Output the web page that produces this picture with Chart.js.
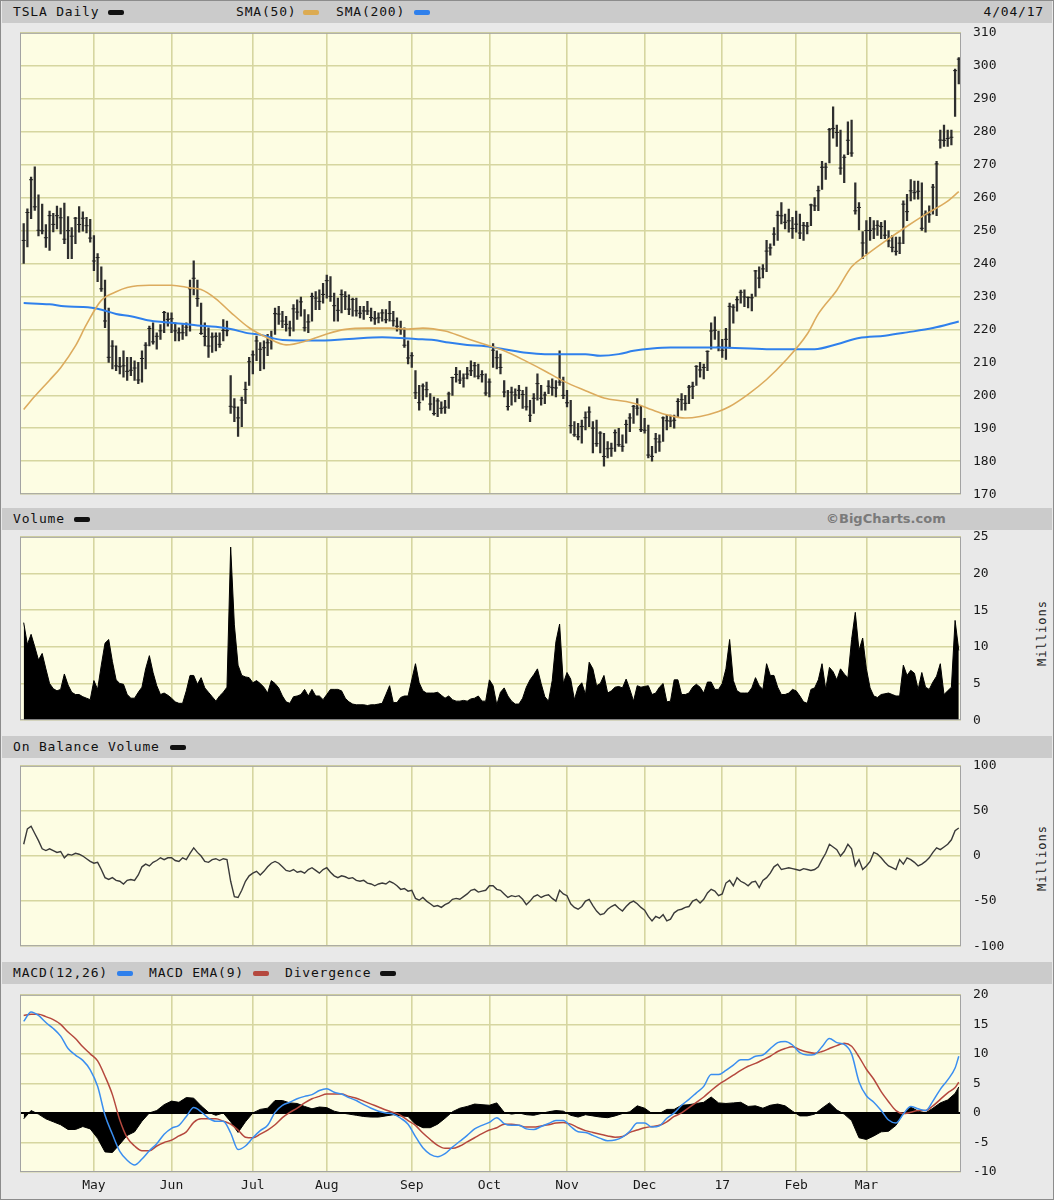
<!DOCTYPE html>
<html>
<head>
<meta charset="utf-8">
<title>TSLA Daily</title>
<script src="https://cdn.jsdelivr.net/npm/chart.js@4.4.1/dist/chart.umd.min.js"></script>
<style>
  body { margin: 0; background: #fff; }
  #wrap { position: relative; width: 1054px; height: 1200px; background: #e9e9e9; overflow: hidden;
          font-family: 'DejaVu Sans Mono', monospace; font-size: 13px; color: #111; box-sizing: border-box;
          border: 1px solid #8c8c8c; }
  .band { position: absolute; left: 1px; width: 1050px; height: 22px; background: #cbcbcb; }
  .lbl { position: absolute; top: 4px; white-space: nowrap; letter-spacing: 0.8px; line-height: 14px; }
  .sw { position: absolute; top: 9px; width: 16px; height: 5px; border-radius: 2px; }
  .mil { position: absolute; left: 1041px; transform: translate(-50%, -50%) rotate(-90deg); font-size: 12px;
         letter-spacing: 1px; white-space: nowrap; color: #222; }
  canvas { position: absolute; left: -1px; }
</style>
</head>
<body>
<div id="wrap">
  <div class="band" style="top:0">
    <span class="lbl" style="left:11px">TSLA Daily</span><span class="sw" style="left:106px;background:#111"></span>
    <span class="lbl" style="left:234px">SMA(50)</span><span class="sw" style="left:301px;background:#dcab52"></span>
    <span class="lbl" style="left:334px">SMA(200)</span><span class="sw" style="left:412px;background:#2f80ec"></span>
    <span class="lbl" style="right:8px">4/04/17</span>
  </div>
  <div class="band" style="top:507px">
    <span class="lbl" style="left:11px">Volume</span><span class="sw" style="left:72px;background:#111"></span>
    <span class="lbl" style="left:824px;font-family:'DejaVu Sans',sans-serif;font-weight:bold;color:#7a7a7a;letter-spacing:0">©BigCharts.com</span>
  </div>
  <div class="band" style="top:735px">
    <span class="lbl" style="left:11px">On Balance Volume</span><span class="sw" style="left:168px;background:#111"></span>
  </div>
  <div class="band" style="top:961px">
    <span class="lbl" style="left:11px">MACD(12,26)</span><span class="sw" style="left:115px;background:#2f80ec"></span>
    <span class="lbl" style="left:147px">MACD EMA(9)</span><span class="sw" style="left:251px;background:#b5483e"></span>
    <span class="lbl" style="left:283px">Divergence</span><span class="sw" style="left:378px;background:#111"></span>
  </div>
  <div class="mil" style="top:632px">Millions</div>
  <div class="mil" style="top:857px">Millions</div>
  <canvas id="priceChart" width="1054" height="501" style="top:12px"></canvas>
  <canvas id="volumeChart" width="1054" height="223" style="top:516px"></canvas>
  <canvas id="obvChart" width="1054" height="220" style="top:745px"></canvas>
  <canvas id="macdChart" width="1054" height="225" style="top:974px"></canvas>
</div>

<script>
// Daily bars, 4 Apr 2016 .. 4 Apr 2017 (index 0..253)
const dayHigh = [
  252.1,256.6,266.2,269.3,260.8,258.0,251.8,255.9,255.2,257.4,256.8,258.3,254.2,250.9,254.0,257.3,255.7,254.0,253.4,248.5,
  243.0,239.0,235.0,226.5,216.6,215.0,211.5,213.5,211.5,211.5,210.5,210.0,213.5,216.0,221.0,222.0,219.0,221.5,225.5,225.0,225.0,
  222.0,220.5,221.5,222.0,235.0,240.8,235.0,228.0,222.0,220.5,219.0,219.0,219.0,223.0,222.5,206.0,199.0,196.5,199.5,204.0,211.5,213.5,
  218.0,216.0,216.5,218.5,219.5,226.5,227.0,225.5,224.0,222.5,227.5,229.0,229.8,226.0,224.5,231.0,231.5,232.0,234.0,236.5,
  236.0,231.0,229.5,232.0,231.5,230.5,229.5,229.5,227.0,227.0,228.5,226.5,225.5,225.0,226.0,226.0,228.5,225.5,223.5,222.5,220.5,216.5,213.0,
  207.5,203.0,203.5,204.0,200.5,199.5,199.0,198.0,198.5,201.0,205.5,208.5,207.5,206.5,208.5,210.5,210.0,209.5,207.5,206.5,205.0,
  215.7,213.5,212.5,204.5,201.5,202.5,202.0,203.0,201.5,202.5,198.5,200.5,206.5,203.0,201.0,204.5,205.0,204.5,213.5,205.5,201.5,
  198.5,192.0,191.5,192.5,195.0,196.5,192.0,192.5,189.0,188.5,186.0,185.5,189.5,190.0,188.0,192.5,194.5,197.0,199.0,197.0,193.0,
  191.0,184.5,188.5,188.0,193.5,194.0,194.0,194.0,199.0,200.5,200.0,203.0,204.0,209.0,210.0,209.5,213.5,222.0,223.8,219.5,217.0,
  220.3,228.0,227.5,230.0,231.9,232.0,229.9,230.7,237.9,239.0,239.7,247.0,246.0,250.9,255.9,258.5,255.0,256.5,254.0,255.9,
  255.0,252.5,252.5,258.0,260.0,263.5,271.0,270.5,281.0,287.5,282.0,280.5,273.0,283.0,283.5,264.5,258.5,249.7,253.0,
  254.0,253.0,253.0,252.5,253.0,250.0,248.5,248.0,248.0,259.0,261.0,265.5,265.0,265.0,264.5,256.0,257.5,264.0,271.0,280.5,282.0,280.5,280.5,
  299.0,302.5
];
const dayLow = [
  240.0,245.0,253.6,256.1,248.4,249.0,244.9,244.0,249.6,250.5,249.0,246.0,241.5,241.5,246.0,249.5,249.8,249.3,246.5,237.8,
  234.5,231.5,220.5,210.0,208.0,207.5,206.5,205.5,204.5,206.0,204.5,203.5,204.0,208.0,215.0,215.5,214.0,217.0,219.0,221.0,219.0,
  216.5,216.5,217.0,218.0,219.5,230.5,227.0,218.5,215.0,211.5,213.0,213.5,214.5,216.5,218.0,194.5,192.0,187.5,190.5,197.5,203.0,206.5,
  210.5,207.5,208.0,212.0,214.0,218.5,221.5,220.5,219.5,218.0,219.5,223.0,224.0,219.5,219.0,222.5,226.0,226.0,228.0,229.5,
  228.5,222.5,222.5,225.0,226.0,224.5,224.0,224.0,223.5,223.0,224.5,222.5,221.5,222.0,222.5,222.0,222.5,221.0,219.5,218.5,214.5,209.5,208.5,
  199.0,195.5,198.5,199.5,195.5,194.0,193.5,194.5,194.5,196.0,200.0,204.0,203.5,202.5,205.0,206.0,205.5,205.0,204.0,200.0,199.5,
  208.5,208.0,206.5,199.5,195.5,197.0,198.0,199.0,196.0,195.5,192.0,194.5,198.5,197.0,197.5,200.5,200.0,199.5,203.0,199.0,196.5,
  188.5,187.5,186.5,185.5,189.5,190.5,182.5,184.5,182.5,178.5,181.0,181.5,183.0,184.5,183.0,185.5,189.0,191.5,194.0,189.0,188.5,
  181.0,180.0,182.5,183.0,186.0,189.5,190.5,190.0,193.5,195.5,195.5,197.5,199.0,203.0,205.5,205.0,207.5,214.0,217.0,213.5,211.5,
  210.9,214.3,221.9,225.5,228.0,226.9,226.5,225.6,230.0,232.6,235.6,237.5,242.5,245.5,247.0,252.0,250.5,249.5,247.6,249.5,
  247.5,247.0,249.0,251.5,256.0,256.0,262.5,265.5,270.5,278.0,275.5,267.0,264.5,273.0,272.5,255.0,250.2,241.5,243.0,
  247.0,247.5,248.5,247.5,247.5,245.0,243.5,242.5,243.0,246.0,253.0,259.0,259.5,259.5,250.0,249.5,252.5,255.0,254.5,275.0,275.5,275.5,276.0,
  284.6,294.5
];
const dayClose = [
  246.99,255.47,265.42,257.20,250.07,249.92,247.82,254.53,251.86,254.51,253.88,247.37,249.97,248.29,253.75,251.82,253.74,251.47,247.71,240.76,
  241.80,232.32,222.56,211.53,214.93,208.92,208.69,208.96,207.28,207.61,208.29,204.66,211.17,215.21,220.28,216.22,217.91,219.58,225.12,223.04,223.23,
  219.56,218.96,218.99,220.68,232.34,235.52,229.36,218.79,217.87,214.96,217.70,217.93,215.47,219.70,219.61,196.66,196.40,193.15,198.55,201.79,210.19,212.28,
  216.50,213.98,214.44,215.94,216.78,224.78,224.65,222.53,221.53,220.40,226.25,225.26,228.36,220.50,222.27,230.01,229.51,228.49,230.61,234.79,
  230.01,227.20,225.79,230.61,230.03,226.16,229.08,225.65,224.91,225.61,225.59,223.61,223.24,223.51,225.00,222.93,224.84,222.62,220.96,219.99,215.20,211.34,212.01,
  200.77,197.78,202.83,201.71,197.36,194.47,198.30,196.05,196.41,200.42,205.40,206.34,204.64,205.22,206.43,207.45,208.99,205.81,206.27,200.70,204.03,
  213.70,211.41,208.46,201.00,196.61,200.95,200.10,201.51,200.24,196.51,193.96,199.10,203.56,199.10,200.09,202.76,202.34,202.24,204.01,199.97,197.73,
  190.79,188.02,187.42,190.56,193.21,194.94,190.06,185.35,188.56,181.45,183.77,183.93,188.66,185.02,184.52,191.17,193.14,196.65,196.12,189.57,189.40,
  181.88,181.47,186.80,185.85,193.15,192.29,192.18,192.43,198.15,198.69,197.58,202.49,202.73,208.79,207.70,208.45,213.34,219.53,219.74,214.68,213.69,
  216.99,226.99,226.75,229.01,231.28,229.87,229.73,229.59,237.75,235.58,238.36,243.76,244.73,248.92,254.61,254.47,252.51,252.95,250.63,251.93,
  249.24,251.55,251.33,257.77,257.48,262.08,269.20,269.23,280.60,280.98,279.76,268.95,272.23,277.39,273.51,255.99,257.00,246.23,249.99,
  250.02,250.48,251.57,251.21,248.59,246.87,244.90,243.69,246.17,258.00,255.73,262.05,261.50,261.92,250.68,255.01,254.78,263.16,270.22,277.45,277.38,277.92,278.30,
  298.52,302.0
];
// volume, millions
const volume = [
  13.3,10.3,11.7,10,8.2,9.1,7,5,4.3,4,4.2,6.3,4.8,3.8,3.5,3.5,3.2,3,2.8,5.4,
  4.2,7.5,10.5,11,8,5.5,5,4.9,3.5,3,3,3.8,4.5,7,8.8,6.5,4.7,3.5,3.7,3.4,3,
  2.5,2.3,2.3,4,6.1,6.1,4.9,5.8,4.4,3.8,3.2,2.6,3.3,3.8,4.5,23.6,13,7.5,6.1,5.9,5.8,5.1,
  5.4,5,4.5,3.7,5.4,5,4.4,3.3,2.5,2.3,3.2,3.3,3.5,4.2,3.3,4.2,3.3,3.3,2.8,3.5,
  4.2,4.2,4.2,4,3,2.5,2.2,2.1,2.1,2.1,2,2.1,2.1,2.2,2.3,3.5,4.7,2.4,2.4,3.1,3.3,3.3,5.5,
  7.7,5.1,4,3.7,3.7,3.7,3.8,3.4,3,3.3,2.8,2.6,2.6,2.7,2.6,2.9,3,3.3,2.6,2.6,5.5,
  4.7,2.1,3.8,4.4,3.3,2.6,2.2,2.2,3,4.5,5.5,6.2,7,5,3.2,2.6,5.4,10.7,13.1,5,6.5,
  5.6,2.8,4.5,5.1,3.5,7.9,7,4.7,5,6.1,3.7,4,4.5,4.6,4.4,5.6,4.2,2.6,4.7,4.5,4.6,
  4.7,3.5,3.7,4.5,5,2.5,2.6,5.5,5.5,3.5,3.5,3.7,4.5,4.9,4.5,3.7,5.2,5.2,4.2,4.2,5,
  7,11,5.4,4,3.7,3.7,3.7,4.4,5.8,4.7,4.2,7.7,6.1,6.1,4.5,3.5,3.5,3.7,4.2,4,
  3.3,2.5,2.3,4.2,4.4,5.5,7.7,4.2,7.2,6.6,5.5,7,6.3,5.8,11,14.7,9.5,11.2,7,
  4.4,3.3,3.1,3.5,3.6,3.7,3.5,3.3,3.3,7.5,6.1,6.8,6.4,4.2,6.5,4.5,4.2,5.2,6,7.7,3.5,4,4.5,
  13.6,9.5
];
// on balance volume, millions
const obv = [
  13,30,33,25,17,8,6,8,6,4,5,-2,2,1,3,2,0,-3,-6,-8,
  -7,-15,-24,-26,-24,-27,-28,-31,-27,-26,-27,-21,-12,-9,-11,-7,-5,-2,-4,-2,-2,
  -5,-6,-2,-4,3,9,4,0,-6,-7,-4,-3,-5,-3,-4,-28,-45,-46,-38,-28,-22,-19,
  -17,-21,-17,-12,-8,-6,-8,-12,-16,-17,-15,-18,-17,-19,-15,-13,-16,-19,-15,-13,
  -18,-22,-24,-22,-23,-25,-24,-27,-28,-27,-30,-31,-33,-31,-30,-31,-28,-30,-33,-37,-36,-39,-38,
  -47,-49,-46,-50,-53,-56,-55,-57,-54,-52,-48,-47,-48,-45,-42,-38,-37,-40,-39,-38,-33,
  -33,-37,-38,-42,-46,-44,-45,-44,-48,-54,-50,-45,-43,-46,-44,-43,-47,-50,-38,-42,-44,
  -53,-57,-59,-56,-50,-48,-55,-61,-65,-64,-59,-56,-54,-58,-61,-56,-52,-50,-53,-57,-60,
  -67,-72,-67,-69,-65,-72,-70,-63,-60,-59,-57,-56,-50,-48,-52,-48,-41,-37,-39,-44,-42,
  -30,-27,-33,-24,-28,-30,-33,-29,-28,-35,-27,-24,-19,-12,-9,-15,-14,-13,-14,-15,
  -16,-14,-15,-16,-15,-12,-4,3,13,10,7,0,5,13,8,-11,-4,-15,-11,
  -6,4,2,-2,-7,-11,-13,-15,-4,-9,-2,-4,-7,-11,-9,-6,-2,4,9,7,10,13,18,
  28,31
];

// moving averages read at selected days
const sma50Idx = [0,3,7,10,14,17,21,25,28,34,40,45,48,52,56,61,66,71,77,82,87,93,99,104,108,114,119,124,130,136,141,146,152,157,163,166,170,174,179,183,188,191,196,201,206,212,215,220,224,228,233,239,244,250,253];
const sma50Val = [195.7,199.7,204.6,208.4,215,221.5,228.8,231.4,232.7,233.4,233.4,232.6,232.1,229.3,225.2,220.5,217.4,215.3,216.7,218.6,220,220.4,220.4,220.1,220.4,219.5,217.6,215.7,213.5,210.3,207.4,204.3,201.4,199.2,198.1,197.3,195.6,194.1,193.1,193.6,195.1,196.6,200.3,204.8,210.4,218.6,224.7,231.9,239,242.6,246.7,251.3,254.9,258.9,261.8];
const sma200Idx = [0,7,11,16,20,25,29,34,38,43,47,52,56,61,64,70,79,88,97,102,106,111,115,120,125,130,136,141,146,152,156,161,165,170,175,181,188,201,214,220,226,233,239,246,253];
const sma200Val = [228,227.6,227,226.8,226.3,224.7,224,222.7,222.2,221.7,221.2,220.8,220.1,218.8,218.4,216.8,216.6,217.1,217.6,217.4,217.1,216.8,216,215.3,214.9,214,212.9,212.5,212.5,212.5,212,212.5,213.5,214.2,214.5,214.5,214.5,214,214,215.5,217.4,218.1,219.1,220.4,222.4];

// MACD(12,26) and its EMA(9), read every second day
const macdVal = [
  15.5,17.1,16.5,15.3,14.3,13.0,10.9,9.8,8.9,7.3,4.5,-0.4,-3.6,-6.5,-8.0,-8.8,-7.8,-6.4,-5.2,-3.6,
  -2.6,-2.1,-0.6,0.9,0.2,-0.9,-1.4,-1.4,-3.4,-6.2,-5.6,-4.2,-3.0,-2.1,0.1,1.3,1.8,2.4,2.8,3.1,
  3.8,4.1,3.5,3.2,2.6,2.1,1.4,0.8,0.3,0.0,-0.2,-0.9,-1.9,-4.0,-5.9,-7.0,-7.4,-6.9,-5.8,-4.8,
  -3.8,-2.7,-2.1,-1.6,-0.8,-1.8,-2.1,-2.1,-2.7,-2.8,-2.3,-1.8,-1.3,-1.3,-2.3,-3.2,-3.3,-3.8,-4.3,-4.7,
  -4.6,-4.1,-3.1,-1.7,-1.7,-2.4,-2.2,-0.9,0.0,1.3,2.3,3.4,4.5,6.5,6.5,7.2,8.1,9.0,9.0,9.6,
  9.8,10.9,11.9,12.1,11.5,10.2,9.8,9.9,11.2,12.6,11.9,11.6,10.0,5.3,2.9,1.8,0.4,-1.2,-1.7,-0.2,
  1.1,0.7,0.4,2.0,4.0,5.6,7.6,9.6
];
const signalVal = [
  16.5,16.7,16.7,16.3,15.8,15.0,13.7,12.6,11.2,10.0,8.8,6.2,3.1,-1.2,-4.2,-5.6,-6.4,-6.4,-5.6,-5.0,
  -4.6,-3.9,-3.2,-1.6,-1.0,-1.0,-1.0,-1.4,-1.9,-2.9,-4.1,-4.2,-3.6,-2.9,-2.0,-0.8,0.1,0.8,1.7,2.4,
  2.8,3.2,3.2,3.2,2.8,2.5,2.0,1.5,1.0,0.5,0.1,-0.4,-1.3,-2.1,-3.4,-4.5,-5.5,-6.0,-6.0,-5.6,
  -4.9,-4.2,-3.5,-2.9,-2.5,-1.9,-1.9,-2.1,-2.4,-2.4,-2.2,-2.0,-1.7,-1.6,-1.9,-2.5,-3.0,-3.3,-3.6,-3.9,
  -4.1,-4.0,-3.3,-2.9,-2.5,-2.3,-2.1,-1.5,-0.6,0.0,0.9,1.8,2.7,3.8,4.8,5.6,6.4,7.2,7.9,8.4,
  9.0,9.6,10.4,10.9,11.2,10.7,10.3,10.1,10.4,10.9,11.4,11.8,11.3,9.5,7.4,5.7,3.6,1.9,0.4,-0.1,
  0.1,0.4,0.4,1.2,2.3,3.4,4.3,5.2
];
const macdIdx = macdVal.map((v, k) => (k < macdVal.length - 1 ? k * 2 : 253));

const monthEnds = [19, 40, 62, 82, 105, 126, 147, 168, 189, 209, 228];
const monthNames = ['May', 'Jun', 'Jul', 'Aug', 'Sep', 'Oct', 'Nov', 'Dec', '17', 'Feb', 'Mar'];

const gridColor = '#d6d6a0';
const axisFont = { family: "'DejaVu Sans Mono', monospace", size: 13 };

const plotFrame = {
  id: 'plotFrame',
  beforeDraw(chart) {
    const { ctx, chartArea: a } = chart;
    ctx.save();
    ctx.fillStyle = '#fdfde3';
    ctx.fillRect(a.left, a.top, a.width, a.height);
    ctx.restore();
  },
  afterDraw(chart) {
    const { ctx, chartArea: a } = chart;
    ctx.save();
    ctx.strokeStyle = '#a3a3a3';
    ctx.lineWidth = 1;
    ctx.strokeRect(a.left + 0.5, a.top + 0.5, a.width - 1, a.height - 1);
    ctx.restore();
  }
};

function xScale(showLabels) {
  return {
    type: 'linear', min: -1, max: 253.6, offset: false,
    afterBuildTicks: s => { s.ticks = monthEnds.map(v => ({ value: v })); },
    grid: { color: gridColor, lineWidth: 1.6, drawTicks: false, offset: false },
    border: { display: false },
    ticks: { display: showLabels, autoSkip: false, maxRotation: 0, padding: 6, color: '#1a1a1a', font: axisFont,
             callback: (v, k) => monthNames[k] },
    afterFit: s => { s.height = showLabels ? 28 : 0; }
  };
}

function yScale(min, max, step, zeroLine) {
  const isZero = c => zeroLine && c.tick && c.tick.value === 0;
  return {
    position: 'right', min: min, max: max,
    ticks: { stepSize: step, padding: 12, color: '#1a1a1a', font: axisFont },
    grid: { drawTicks: false, color: c => isZero(c) ? '#000' : gridColor, lineWidth: c => isZero(c) ? 2 : 1.6 },
    border: { display: false },
    afterFit: s => { s.width = 50; }
  };
}

function baseOptions(xs, ys, bottomPad) {
  return {
    responsive: false,
    animation: false,
    layout: { padding: { left: 20, right: 43, top: 8, bottom: bottomPad } },
    scales: { x: xs, y: ys },
    plugins: { legend: { display: false }, tooltip: { enabled: false } }
  };
}

const days = dayClose.map((c, i) => i);

new Chart(document.getElementById('priceChart'), {
  type: 'bar',
  data: {
    datasets: [
      { type: 'line', data: sma50Idx.map((k, j) => ({ x: k, y: sma50Val[j] })), borderColor: '#dcab5e', borderWidth: 1.6,
        pointRadius: 0, cubicInterpolationMode: 'monotone', order: 1 },
      { type: 'line', data: sma200Idx.map((k, j) => ({ x: k, y: sma200Val[j] })), borderColor: '#2f80ec', borderWidth: 2,
        pointRadius: 0, cubicInterpolationMode: 'monotone', order: 1 },
      { type: 'line', data: days.map(i => ({ x: i, y: dayClose[i] })), showLine: false, pointStyle: 'line',
        pointRadius: 2, borderColor: '#222', borderWidth: 1, order: 2 },
      { data: days.map(i => ({ x: i, y: [dayLow[i], dayHigh[i]] })), backgroundColor: '#2e2e2e',
        barThickness: 1.6, grouped: false, order: 3 }
    ]
  },
  options: baseOptions(xScale(false), yScale(170, 310, 10, false), 8),
  plugins: [plotFrame]
});

new Chart(document.getElementById('volumeChart'), {
  type: 'line',
  data: {
    datasets: [{ data: days.map(i => ({ x: i, y: volume[i] })), borderColor: '#000', backgroundColor: '#000',
                 borderWidth: 1, fill: 'origin', pointRadius: 0 }]
  },
  options: baseOptions(xScale(false), yScale(0, 25, 5, false), 8),
  plugins: [plotFrame]
});

new Chart(document.getElementById('obvChart'), {
  type: 'line',
  data: {
    datasets: [{ data: days.map(i => ({ x: i, y: obv[i] })), borderColor: '#3a3a3a', borderWidth: 1.4,
                 pointRadius: 0, fill: false }]
  },
  options: baseOptions(xScale(false), yScale(-100, 100, 50, false), 8),
  plugins: [plotFrame]
});

new Chart(document.getElementById('macdChart'), {
  type: 'line',
  data: {
    datasets: [
      { data: macdIdx.map((k, j) => ({ x: k, y: macdVal[j] - signalVal[j] })), borderColor: '#000', backgroundColor: '#000',
        borderWidth: 1, fill: 'origin', pointRadius: 0, order: 3 },
      { data: macdIdx.map((k, j) => ({ x: k, y: signalVal[j] })), borderColor: '#b5483e', borderWidth: 1.5,
        pointRadius: 0, cubicInterpolationMode: 'monotone', order: 2 },
      { data: macdIdx.map((k, j) => ({ x: k, y: macdVal[j] })), borderColor: '#3a8ef0', borderWidth: 1.5,
        pointRadius: 0, cubicInterpolationMode: 'monotone', order: 1 }
    ]
  },
  options: baseOptions(xScale(true), yScale(-10, 20, 5, true), 0),
  plugins: [plotFrame]
});
</script>
</body>
</html>
